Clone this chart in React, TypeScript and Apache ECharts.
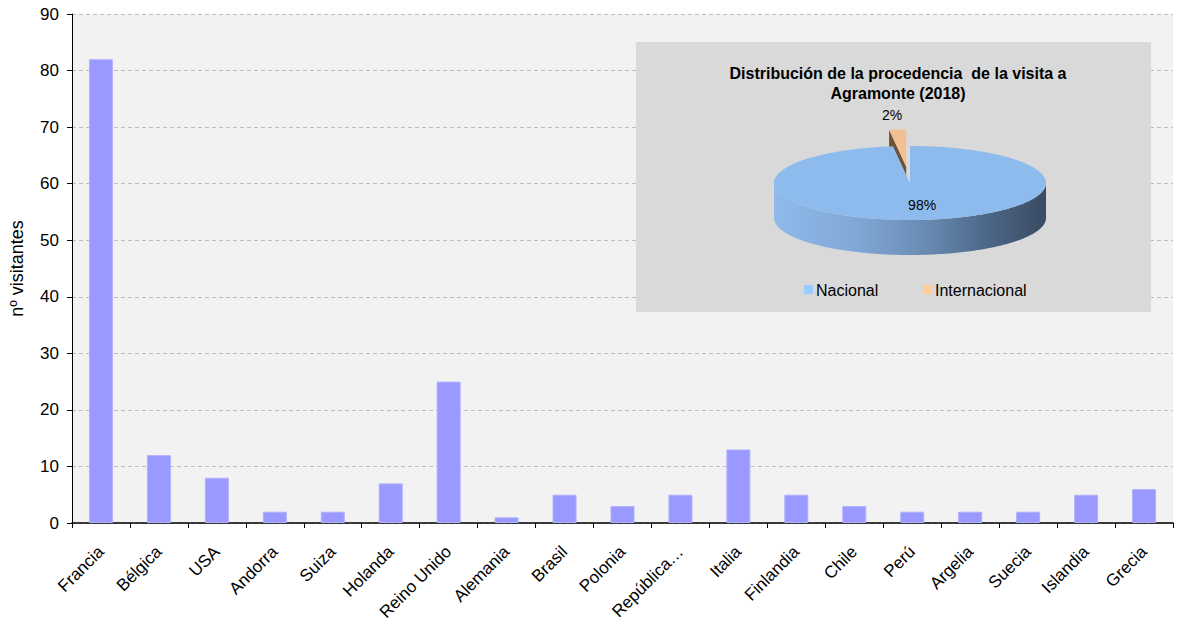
import React, { useEffect, useRef } from "react";
import * as echarts from "echarts";

const categories = [
  "Francia", "Bélgica", "USA", "Andorra", "Suiza", "Holanda", "Reino Unido",
  "Alemania", "Brasil", "Polonia", "República…", "Italia", "Finlandia",
  "Chile", "Perú", "Argelia", "Suecia", "Islandia", "Grecia",
];
const visitors = [82, 12, 8, 2, 2, 7, 25, 1, 5, 3, 5, 13, 5, 3, 2, 2, 2, 5, 6];
const yMin = 0;
const yMax = 90;
const yInterval = 10;
const yAxisName = "nº visitantes";

const pieTitle = "Distribución de la procedencia  de la visita a\nAgramonte (2018)";
const pieNames = ["Nacional", "Internacional"];
const pieValues = [98, 2];

const FONT = "'Liberation Sans', Arial, sans-serif";
const pieTopColors = ["#8ebbed", "#f2c193"];
const pieFaceColors = ["#5f7fa6", "#6e5236"];
const legendColors = ["#99ccff", "#ffcc99"];
const pieExplode = [0, 0.45];

export default function App() {
  const ref = useRef<HTMLDivElement>(null);
  useEffect(() => {
    if (!ref.current) return;
    const chart = echarts.init(ref.current, null, { renderer: "svg" });

    const cx = 910, cy = 183, rx = 136, ry = 37, depth = 35;
    const total = pieValues.reduce((a, b) => a + b, 0);
    const rad = (d: number) => (d * Math.PI) / 180;
    const pt = (deg: number, r: number, ox: number, oy: number, dy = 0) => [
      cx + ox + rx * r * Math.sin(rad(deg)),
      cy + oy - ry * r * Math.cos(rad(deg)) + dy,
    ];
    const arc = (a: number, b: number, ox: number, oy: number, dy = 0) => {
      const pts: number[][] = [];
      const n = Math.max(2, Math.ceil(b - a));
      for (let i = 0; i <= n; i++) pts.push(pt(a + ((b - a) * i) / n, 1, ox, oy, dy));
      return pts;
    };

    const sideGradient = new echarts.graphic.LinearGradient(0, 0, 1, 0, [
      { offset: 0, color: "#8fbaea" },
      { offset: 0.3, color: "#80a8d6" },
      { offset: 0.55, color: "#6a8cb3" },
      { offset: 0.8, color: "#4a6585" },
      { offset: 1, color: "#3a4b62" },
    ]);

    const renderItem = (params: any, api: any) => {
      const i = params.dataIndex;
      const v = api.value(0);
      let before = 0;
      for (let k = 0; k < i; k++) before += pieValues[k];
      const a = (before / total) * 360;
      const b = ((before + v) / total) * 360;
      const mid = (a + b) / 2;
      const e = pieExplode[i];
      const ox = rx * e * Math.sin(rad(mid));
      const oy = -ry * e * Math.cos(rad(mid));
      const children: any[] = [];
      const fa = Math.max(a, 90), fb = Math.min(b, 270);
      if (fb > fa) {
        const top = arc(fa, fb, ox, oy);
        const bottom = arc(fa, fb, ox, oy, depth).reverse();
        children.push({
          type: "polygon",
          z2: 1,
          shape: { points: top.concat(bottom) },
          style: { fill: i === 0 ? sideGradient : pieFaceColors[i] },
        });
      }
      if (Math.sin(rad(a)) < -1e-6) {
        const c = [cx + ox, cy + oy];
        const r0 = pt(a, 1, ox, oy);
        children.push({
          type: "polygon",
          z2: 1,
          shape: { points: [c, r0, [r0[0], r0[1] + depth], [c[0], c[1] + depth]] },
          style: { fill: pieFaceColors[i] },
        });
      }
      children.push({
        type: "polygon",
        z2: 2,
        shape: { points: [[cx + ox, cy + oy]].concat(arc(a, b, ox, oy)) },
        style: { fill: pieTopColors[i] },
      });
      const pct = Math.round((v / total) * 100) + "%";
      const outside = v / total < 0.1;
      const lp = outside ? pt(mid, 1 + e + 0.4, 0, 0) : pt(mid, 0.6, ox, oy);
      children.push({
        type: "text",
        z2: 3,
        style: {
          text: pct,
          x: lp[0] + (outside ? -2 : 7),
          y: lp[1],
          align: "center",
          verticalAlign: "middle",
          font: `14px ${FONT}`,
          fill: "#000",
        },
      });
      return { type: "group", children };
    };

    const legendGraphics: any[] = [];
    const legendX = [804, 923];
    pieNames.forEach((name, i) => {
      legendGraphics.push({
        type: "rect",
        z: 11,
        shape: { x: legendX[i], y: 285, width: 9, height: 9 },
        style: { fill: legendColors[i] },
      });
      legendGraphics.push({
        type: "text",
        z: 11,
        x: legendX[i] + 12,
        y: 290,
        style: {
          text: name,
          font: `16px ${FONT}`,
          fill: "#000",
          verticalAlign: "middle",
        },
      });
    });

    chart.setOption({
      animation: false,
      textStyle: { fontFamily: FONT },
      title: {
        text: pieTitle,
        left: 893,
        top: 58,
        textAlign: "center",
        z: 12,
        textStyle: { fontSize: 16, fontWeight: "bold", color: "#000", lineHeight: 20, fontFamily: FONT },
      },
      grid: {
        left: 71,
        right: 9,
        top: 14,
        bottom: 104,
        show: true,
        backgroundColor: "#f2f2f2",
        borderWidth: 0,
      },
      xAxis: {
        type: "category",
        data: categories,
        axisLine: { lineStyle: { color: "#000", width: 1.5 } },
        axisTick: { show: true, length: 5, lineStyle: { color: "#000" } },
        axisLabel: { rotate: 45, fontSize: 17, color: "#000", margin: 26, interval: 0 },
      },
      yAxis: {
        type: "value",
        min: yMin,
        max: yMax,
        interval: yInterval,
        name: yAxisName,
        nameLocation: "middle",
        nameGap: 46,
        nameTextStyle: { fontSize: 18, color: "#000" },
        axisLine: { show: true, lineStyle: { color: "#000" } },
        axisTick: { show: true, length: 5, lineStyle: { color: "#000" } },
        axisLabel: { fontSize: 17, color: "#000", margin: 13 },
        splitLine: { lineStyle: { color: "#bdbdbd", type: [4, 3] } },
      },
      graphic: [
        {
          type: "rect",
          z: 5,
          shape: { x: 636, y: 42, width: 515, height: 270 },
          style: { fill: "#d9d9d9" },
        },
        ...legendGraphics,
      ],
      series: [
        {
          type: "bar",
          data: visitors,
          barWidth: 24,
          itemStyle: { color: "#9999ff", borderColor: "#b0b0ff", borderWidth: 1 },
        },
        {
          type: "custom",
          coordinateSystem: "none",
          z: 10,
          renderItem,
          data: pieValues.map((v, i) => ({ name: pieNames[i], value: [v] })),
        },
      ],
    });
    return () => chart.dispose();
  }, []);
  return (
    <div
      ref={ref}
      style={{ position: "fixed", left: 0, top: 0, width: 1182, height: 627, background: "#fff" }}
    />
  );
}
